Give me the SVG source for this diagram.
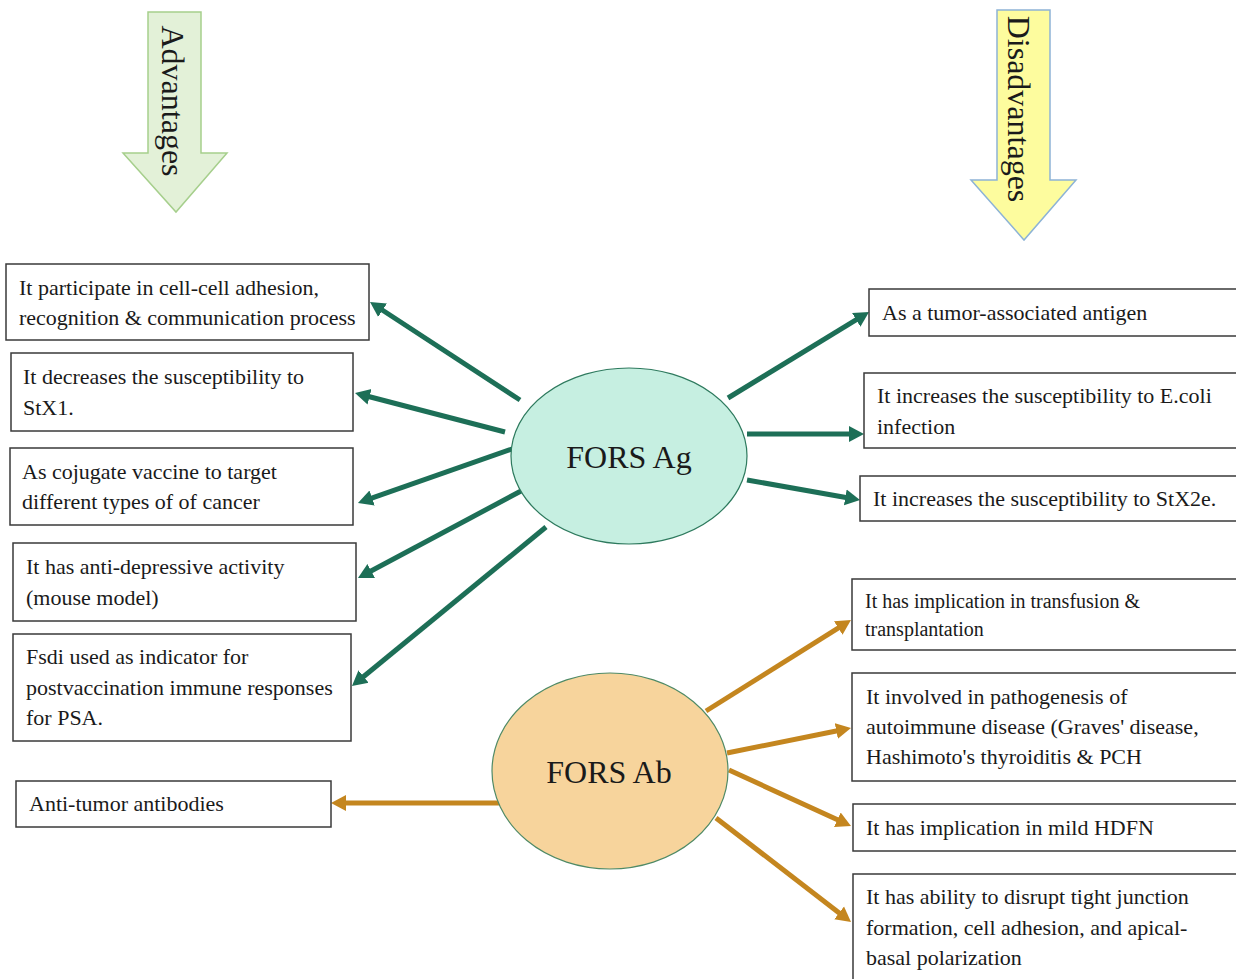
<svg xmlns="http://www.w3.org/2000/svg" width="1236" height="979" viewBox="0 0 1236 979">
<style>
.box{fill:#ffffff;stroke:#3a3a3a;stroke-width:1.5}
.t{font-family:"Liberation Serif","Times New Roman",serif;font-size:22px;fill:#1a1a1a}
.ts{font-family:"Liberation Serif","Times New Roman",serif;font-size:20px;fill:#1a1a1a}
.big{font-family:"Liberation Serif","Times New Roman",serif;font-size:32px;fill:#1a1a1a}
.g{stroke:#1d6f57;stroke-width:5;fill:none;marker-end:url(#ag)}
.o{stroke:#c4861f;stroke-width:5;fill:none;marker-end:url(#ao)}
</style>
<defs>
<marker id="ag" markerUnits="userSpaceOnUse" viewBox="0 -9 16 18" markerWidth="16" markerHeight="18" refX="5" refY="0" orient="auto">
<path d="M0,-8 L15,0 L0,8 Z" fill="#1d6f57"/>
</marker>
<marker id="ao" markerUnits="userSpaceOnUse" viewBox="0 -9 16 18" markerWidth="16" markerHeight="18" refX="5" refY="0" orient="auto">
<path d="M0,-8 L15,0 L0,8 Z" fill="#c4861f"/>
</marker>
</defs>
<rect width="1236" height="979" fill="#ffffff"/>

<g id="advantages">
<polygon points="148,12 201,12 201,153 227,153 176,212 123,153 148,153" fill="#e3f1d8" stroke="#a6cf8c" stroke-width="1.5"/>
<text class="big" text-anchor="middle" transform="translate(162,101) rotate(90)">Advantages</text>
</g>
<g id="disadvantages">
<polygon points="997,10 1050,10 1050,180 1076,180 1024,240 971,180 997,180" fill="#fdfc9e" stroke="#8db3d6" stroke-width="1.5"/>
<text class="big" text-anchor="middle" transform="translate(1008,109) rotate(90)">Disadvantages</text>
</g>

<g id="connectors">
<line class="g" x1="520" y1="400" x2="378.4" y2="307.5"/>
<line class="g" x1="505" y1="432" x2="364.7" y2="395.5"/>
<line class="g" x1="512" y1="449" x2="367.4" y2="499.7"/>
<line class="g" x1="521" y1="491" x2="366.8" y2="573.3"/>
<line class="g" x1="546" y1="527" x2="359.7" y2="679.7"/>
<line class="g" x1="728" y1="398" x2="860.5" y2="317.2"/>
<line class="g" x1="747" y1="434" x2="854" y2="434"/>
<line class="g" x1="747" y1="480" x2="850.2" y2="498.3"/>
<line class="o" x1="500" y1="803" x2="341" y2="803"/>
<line class="o" x1="706" y1="711" x2="842.5" y2="625.3"/>
<line class="o" x1="727" y1="753" x2="841.2" y2="730"/>
<line class="o" x1="729" y1="770" x2="841.9" y2="821.8"/>
<line class="o" x1="716" y1="818" x2="843.1" y2="915.9"/>
</g>

<g id="fors-ag">
<ellipse cx="629" cy="456" rx="118" ry="88" fill="#c6efe1" stroke="#2e7a5e" stroke-width="1.2"/>
<text class="big" x="629" y="468" text-anchor="middle">FORS Ag</text>
</g>
<g id="fors-ab">
<ellipse cx="610" cy="771" rx="118" ry="98" fill="#f7d49c" stroke="#4f8a66" stroke-width="1.2"/>
<text class="big" x="609" y="783" text-anchor="middle">FORS Ab</text>
</g>

<g id="adv1">
<rect class="box" x="6" y="264" width="363" height="76"/>
<text class="t" x="19" y="295">It participate in cell-cell adhesion,</text>
<text class="t" x="19" y="325">recognition &amp; communication process</text>
</g>
<g id="adv2">
<rect class="box" x="11" y="353" width="342" height="78"/>
<text class="t" x="23" y="384">It decreases the susceptibility to</text>
<text class="t" x="23" y="415">StX1.</text>
</g>
<g id="adv3">
<rect class="box" x="10" y="448" width="343" height="77"/>
<text class="t" x="22" y="479">As cojugate vaccine to target</text>
<text class="t" x="22" y="509">different types of of cancer</text>
</g>
<g id="adv4">
<rect class="box" x="13" y="543" width="343" height="78"/>
<text class="t" x="26" y="574">It has anti-depressive activity</text>
<text class="t" x="26" y="605">(mouse model)</text>
</g>
<g id="adv5">
<rect class="box" x="13" y="634" width="338" height="107"/>
<text class="t" x="26" y="664">Fsdi used as indicator for</text>
<text class="t" x="26" y="695">postvaccination immune responses</text>
<text class="t" x="26" y="725">for PSA.</text>
</g>
<g id="adv6">
<rect class="box" x="16" y="781" width="315" height="46"/>
<text class="t" x="29" y="811">Anti-tumor antibodies</text>
</g>

<g id="dis1">
<rect class="box" x="869" y="289" width="380" height="47"/>
<text class="t" x="882" y="320">As a tumor-associated antigen</text>
</g>
<g id="dis2">
<rect class="box" x="864" y="373" width="385" height="75"/>
<text class="t" x="877" y="403">It increases the susceptibility to E.coli</text>
<text class="t" x="877" y="434">infection</text>
</g>
<g id="dis3">
<rect class="box" x="860" y="476" width="389" height="45"/>
<text class="t" x="873" y="506">It increases the susceptibility to StX2e.</text>
</g>
<g id="dis4">
<rect class="box" x="852" y="579" width="397" height="71"/>
<text class="ts" x="865" y="608">It has implication in transfusion &amp;</text>
<text class="ts" x="865" y="636">transplantation</text>
</g>
<g id="dis5">
<rect class="box" x="852" y="673" width="397" height="108"/>
<text class="t" x="866" y="704">It involved in pathogenesis of</text>
<text class="t" x="866" y="734">autoimmune disease (Graves' disease,</text>
<text class="t" x="866" y="764">Hashimoto's thyroiditis &amp; PCH</text>
</g>
<g id="dis6">
<rect class="box" x="853" y="804" width="396" height="47"/>
<text class="t" x="866" y="835">It has implication in mild HDFN</text>
</g>
<g id="dis7">
<rect class="box" x="853" y="874" width="396" height="120"/>
<text class="t" x="866" y="904">It has ability to disrupt tight junction</text>
<text class="t" x="866" y="935">formation, cell adhesion, and apical-</text>
<text class="t" x="866" y="965">basal polarization</text>
</g>
</svg>
